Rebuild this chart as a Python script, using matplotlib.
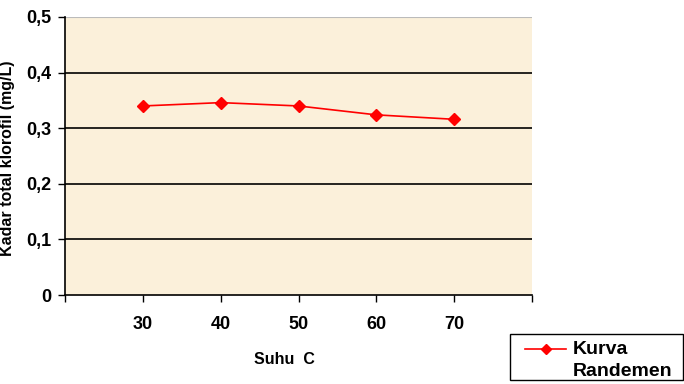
import matplotlib
matplotlib.use("Agg")
import matplotlib.pyplot as plt
from matplotlib.lines import Line2D
from matplotlib.patches import Rectangle

plt.rcParams['font.family'] = ['Liberation Sans', 'DejaVu Sans']

suhu = [30, 40, 50, 60, 70]
kadar = [0.340, 0.346, 0.340, 0.324, 0.316]
y_ticks = [0, 0.1, 0.2, 0.3, 0.4, 0.5]
y_labels = ['0', '0,1', '0,2', '0,3', '0,4', '0,5']
x_labels = ['30', '40', '50', '60', '70']

fig = plt.figure(figsize=(6.84, 3.84), dpi=100)
ax = fig.add_axes([65/684, 89/384, (532-65)/684, (295-17)/384])
ax.set_facecolor('#FBF0DA')

ax.set_xlim(20, 80)
ax.set_ylim(0, 0.5)
for yv in y_ticks[1:5]:
    ax.axhline(yv, color='black', lw=1.2, zorder=1)
ax.axhline(0.5, color='#BBBBBB', lw=0.8, zorder=1)

ax.plot(suhu, kadar, color='#FF0000', lw=1.2, marker='D', ms=6,
        mfc='#FF0000', mec='#FF0000', zorder=3)

ax.set_xticks([20, 30, 40, 50, 60, 70, 80])
ax.set_xticklabels([''] + x_labels + [''], fontsize=13, fontweight='bold')
ax.set_yticks(y_ticks)
ax.set_yticklabels(y_labels, fontsize=13, fontweight='bold')
ax.tick_params(axis='both', direction='out', length=5, width=1, color='black')
ax.tick_params(axis='x', pad=10)
ax.tick_params(axis='y', pad=5)

ax.spines['top'].set_visible(False)
ax.spines['right'].set_visible(False)
ax.spines['left'].set_linewidth(1.2)
ax.spines['bottom'].set_linewidth(1.2)

fig.text(8/684, 1 - 158/384, 'Kadar total klorofil (mg/L)', fontsize=11.5,
         fontweight='bold', rotation=90, ha='center', va='center')
fig.text(284/684, 1 - 359/384, 'Suhu  C', fontsize=11.5, fontweight='bold',
         ha='center', va='center')

# legend box
fig.patches.append(Rectangle((510/684, 1 - 380/384), (683-510)/684, (380-334)/384,
                             transform=fig.transFigure, fill=False,
                             edgecolor='black', lw=1.0))
fig.add_artist(Line2D([525/684, 566/684], [1 - 349/384] * 2, color='#FF0000', lw=1.2,
                      transform=fig.transFigure))
fig.add_artist(Line2D([546/684], [1 - 349/384], color='#FF0000', marker='D', ms=5,
                      mfc='#FF0000', mec='#FF0000', transform=fig.transFigure))
fig.text(573/684, 1 - 349/384, 'Kurva', fontsize=14, fontweight='bold',
         ha='left', va='center')
fig.text(573/684, 1 - 372/384, 'Randemen', fontsize=14, fontweight='bold',
         ha='left', va='center')

fig.savefig('out.png', dpi=100, facecolor='white')
